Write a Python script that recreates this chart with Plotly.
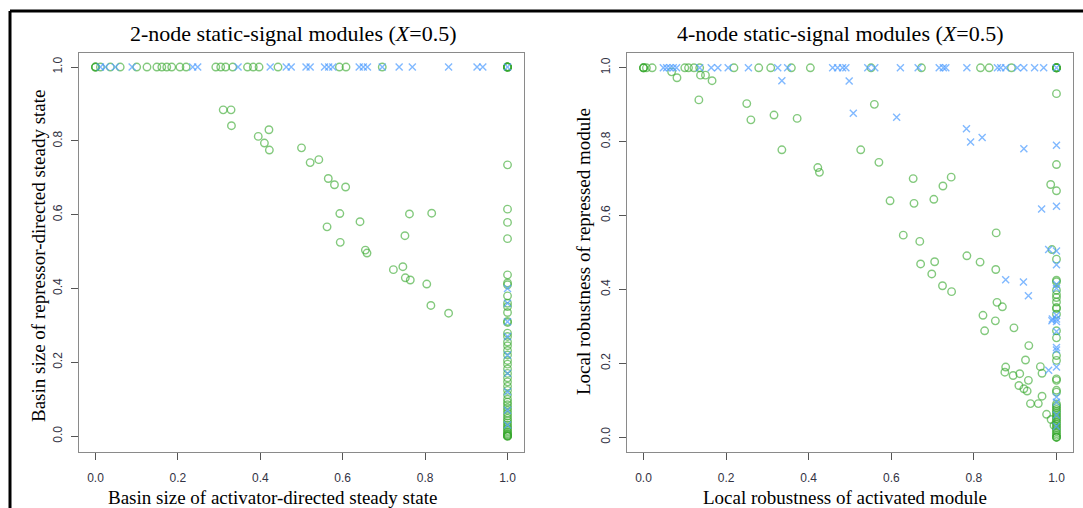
import plotly.graph_objects as go

W, H = 1083, 508

# ---------------- Left panel: 2-node ----------------
left_green_top_x = [0.0, 0.0, 0.0, 0.012, 0.036, 0.06, 0.10, 0.125, 0.149, 0.161, 0.173, 0.185,
                    0.205, 0.22, 0.292, 0.304, 0.316, 0.333, 0.369, 0.383, 0.397, 0.443,
                    0.592, 0.608, 0.696, 1.0, 1.0, 1.0, 1.0, 1.0, 1.0]
left_blue_top_x = [0.012, 0.024, 0.048, 0.089, 0.236, 0.248, 0.346, 0.424, 0.463, 0.475, 0.511,
                   0.521, 0.556, 0.566, 0.576, 0.640, 0.650, 0.660, 0.696, 0.737, 0.769,
                   0.857, 0.926, 0.940, 1.0]
left_green_x = [0.310, 0.329, 0.330, 0.395, 0.421, 0.410, 0.422, 0.500, 0.521, 0.542, 0.565,
                0.580, 0.607, 0.593, 0.562, 0.642, 0.594, 0.655, 0.659, 0.762, 0.816, 0.751,
                0.723, 0.746, 0.752, 0.764, 0.804, 0.814, 0.857]
left_green_y = [0.884, 0.884, 0.841, 0.812, 0.830, 0.794, 0.775, 0.781, 0.741, 0.749, 0.698,
                0.681, 0.675, 0.603, 0.567, 0.581, 0.525, 0.504, 0.496, 0.602, 0.604, 0.543,
                0.451, 0.459, 0.429, 0.423, 0.412, 0.354, 0.333]
left_green_col_y = [0.735, 0.615, 0.579, 0.535, 0.437, 0.415, 0.410, 0.380, 0.360, 0.351, 0.335,
                    0.311, 0.308, 0.279, 0.270, 0.255, 0.245, 0.232, 0.220, 0.205, 0.195, 0.182,
                    0.170, 0.158, 0.147, 0.135, 0.124, 0.112, 0.100, 0.092, 0.085, 0.077, 0.070,
                    0.062, 0.055, 0.048, 0.042, 0.036, 0.030, 0.025, 0.020, 0.015, 0.011, 0.007,
                    0.004, 0.002, 0.0, 0.0, 0.0]
left_blue_col_y = [0.400, 0.360, 0.310, 0.270, 0.220, 0.170, 0.120, 0.070, 0.030]

# ---------------- Right panel: 4-node ----------------
right_green_top_x = [0.0, 0.0, 0.0, 0.007, 0.021, 0.100, 0.109, 0.122, 0.136, 0.219, 0.279,
                     0.308, 0.358, 0.404, 0.551, 0.673, 0.816, 0.837, 0.891,
                     1.0, 1.0, 1.0, 1.0, 1.0]
right_blue_top_x = [0.048, 0.056, 0.064, 0.072, 0.080, 0.136, 0.164, 0.180, 0.205, 0.254, 0.325,
                    0.349, 0.458, 0.470, 0.482, 0.490, 0.543, 0.560, 0.622, 0.665, 0.716, 0.726,
                    0.732, 0.783, 0.857, 0.865, 0.877, 0.905, 0.921, 0.947, 0.969, 1.0]
right_green_x = [0.068, 0.081, 0.138, 0.150, 0.166, 0.134, 0.250, 0.260, 0.316, 0.372, 0.335,
                 0.422, 0.426, 0.526, 0.559, 0.570, 0.653, 0.745, 0.725, 0.703, 0.655, 0.597,
                 0.986, 0.629, 0.669, 0.671, 0.705, 0.698, 0.724, 0.746, 0.783, 0.815, 0.854,
                 0.853, 0.989, 0.856, 0.869, 0.822, 0.852, 0.897, 0.826, 0.933, 0.925, 0.877,
                 0.875, 0.895, 0.911, 0.932, 0.909, 0.921, 0.929, 0.965, 0.937, 0.956, 0.961,
                 0.965, 0.976, 0.987, 0.994]
right_green_y = [0.989, 0.973, 0.980, 0.980, 0.965, 0.913, 0.903, 0.859, 0.872, 0.863, 0.778,
                 0.730, 0.717, 0.778, 0.901, 0.744, 0.700, 0.704, 0.680, 0.644, 0.633, 0.640,
                 0.684, 0.547, 0.530, 0.469, 0.475, 0.442, 0.410, 0.394, 0.491, 0.474, 0.553,
                 0.454, 0.508, 0.365, 0.353, 0.330, 0.315, 0.296, 0.288, 0.248, 0.209, 0.190,
                 0.176, 0.167, 0.172, 0.154, 0.140, 0.131, 0.125, 0.111, 0.091, 0.091, 0.191,
                 0.173, 0.062, 0.048, 0.032]
right_green_col_y = [0.930, 0.738, 0.667, 0.482, 0.425, 0.421, 0.398, 0.386, 0.378, 0.366, 0.351,
                     0.348, 0.333, 0.288, 0.269, 0.221, 0.208, 0.158, 0.154, 0.127, 0.122,
                     0.090, 0.085, 0.080, 0.075, 0.070, 0.065, 0.060, 0.055, 0.050, 0.045,
                     0.040, 0.035, 0.030, 0.025, 0.020, 0.015, 0.010, 0.005, 0.0, 0.0, 0.0]
right_blue_x = [0.335, 0.498, 0.508, 0.613, 0.782, 0.792, 0.820, 0.921, 0.964, 0.877, 0.920,
                0.932, 0.981, 0.990, 0.989, 0.981]
right_blue_y = [0.965, 0.964, 0.877, 0.866, 0.835, 0.799, 0.811, 0.781, 0.618, 0.426, 0.420,
                0.383, 0.508, 0.320, 0.315, 0.181]
right_blue_col_y = [0.790, 0.625, 0.504, 0.467, 0.414, 0.403, 0.330, 0.320, 0.313, 0.286, 0.243,
                    0.236, 0.190, 0.109, 0.095, 0.060, 0.030]

tick_vals = [0.0, 0.2, 0.4, 0.6, 0.8, 1.0]
tick_text = ["0.0", "0.2", "0.4", "0.6", "0.8", "1.0"]

titles = ["2-node static-signal modules (<i>X</i>=0.5)", "4-node static-signal modules (<i>X</i>=0.5)"]
x_titles = ["Basin size of activator-directed steady state", "Local robustness of activated module"]
y_titles = ["Basin size of repressor-directed steady state", "Local robustness of repressed module"]

GREEN = "rgba(55,168,45,0.62)"
BLUE = "rgba(80,158,255,0.72)"

fig = go.Figure()


def add_panel(xa, ya, gx, gy, bx, by):
    fig.add_trace(go.Scatter(x=gx, y=gy, mode="markers", xaxis=xa, yaxis=ya, showlegend=False,
                             marker=dict(symbol="circle-open", size=7.5, color=GREEN,
                                         line=dict(width=1.4, color=GREEN))))
    fig.add_trace(go.Scatter(x=bx, y=by, mode="markers", xaxis=xa, yaxis=ya, showlegend=False,
                             marker=dict(symbol="x-thin-open", size=7, color=BLUE,
                                         line=dict(width=1.4, color=BLUE))))


lgx = left_green_top_x + left_green_x + [1.0] * len(left_green_col_y)
lgy = [1.0] * len(left_green_top_x) + left_green_y + left_green_col_y
lbx = left_blue_top_x + [1.0] * len(left_blue_col_y)
lby = [1.0] * len(left_blue_top_x) + left_blue_col_y
add_panel("x", "y", lgx, lgy, lbx, lby)

rgx = right_green_top_x + right_green_x + [1.0] * len(right_green_col_y)
rgy = [1.0] * len(right_green_top_x) + right_green_y + right_green_col_y
rbx = right_blue_top_x + right_blue_x + [1.0] * len(right_blue_col_y)
rby = [1.0] * len(right_blue_top_x) + right_blue_y + right_blue_col_y
add_panel("x2", "y2", rgx, rgy, rbx, rby)

tickfont = dict(family="Liberation Sans, Arial, sans-serif", size=12, color="#333344")
axis_common = dict(range=[-0.04, 1.04], tickvals=tick_vals, ticktext=tick_text,
                   showgrid=False, zeroline=False, showline=True, mirror=True,
                   linecolor="#8a8a8a", linewidth=1.2, ticks="outside", ticklen=7,
                   tickcolor="#555555", tickwidth=1, tickfont=tickfont)

xd1 = [79 / W, 524 / W]
xd2 = [627 / W, 1073 / W]
yd = [1 - 452 / H, 1 - 53 / H]

fig.update_layout(
    width=W, height=H,
    margin=dict(l=0, r=0, t=0, b=0),
    paper_bgcolor="white", plot_bgcolor="white",
    xaxis=dict(domain=xd1, anchor="y", ticklabelstandoff=7, **axis_common),
    yaxis=dict(domain=yd, anchor="x", tickangle=-90, ticklabelstandoff=4,
               **{**axis_common, "range": [-0.043, 1.038]}),
    xaxis2=dict(domain=xd2, anchor="y2", ticklabelstandoff=7, **axis_common),
    yaxis2=dict(domain=yd, anchor="x2", tickangle=-90, ticklabelstandoff=4,
                **{**axis_common, "range": [-0.04, 1.04]}),
)

serif = "Liberation Serif, Times New Roman, serif"
title_cx = [293, 840]
xtitle_cx = [272, 845]
ytitle_x = [38, 583]
ytitle_cy = [256, 252]
ann = []
for i in range(2):
    ann.append(dict(text=titles[i], x=title_cx[i] / W, y=1 - 33 / H, xref="paper", yref="paper",
                    showarrow=False, xanchor="center", yanchor="middle",
                    font=dict(family=serif, size=22, color="black")))
    ann.append(dict(text=x_titles[i], x=xtitle_cx[i] / W, y=1 - 497 / H, xref="paper", yref="paper",
                    showarrow=False, xanchor="center", yanchor="middle",
                    font=dict(family=serif, size=19, color="black")))
    ann.append(dict(text=y_titles[i], x=ytitle_x[i] / W, y=1 - ytitle_cy[i] / H, xref="paper",
                    yref="paper", showarrow=False, xanchor="center", yanchor="middle",
                    textangle=-90, font=dict(family=serif, size=19, color="black")))
fig.update_layout(annotations=ann)

fig.update_layout(shapes=[
    dict(type="line", xref="paper", yref="paper", x0=10 / W, x1=1.0, y0=1 - 11 / H, y1=1 - 11 / H,
         line=dict(color="black", width=3)),
    dict(type="line", xref="paper", yref="paper", x0=10 / W, x1=10 / W, y0=0, y1=1 - 11 / H,
         line=dict(color="black", width=3)),
])

fig.write_html("out.html")
